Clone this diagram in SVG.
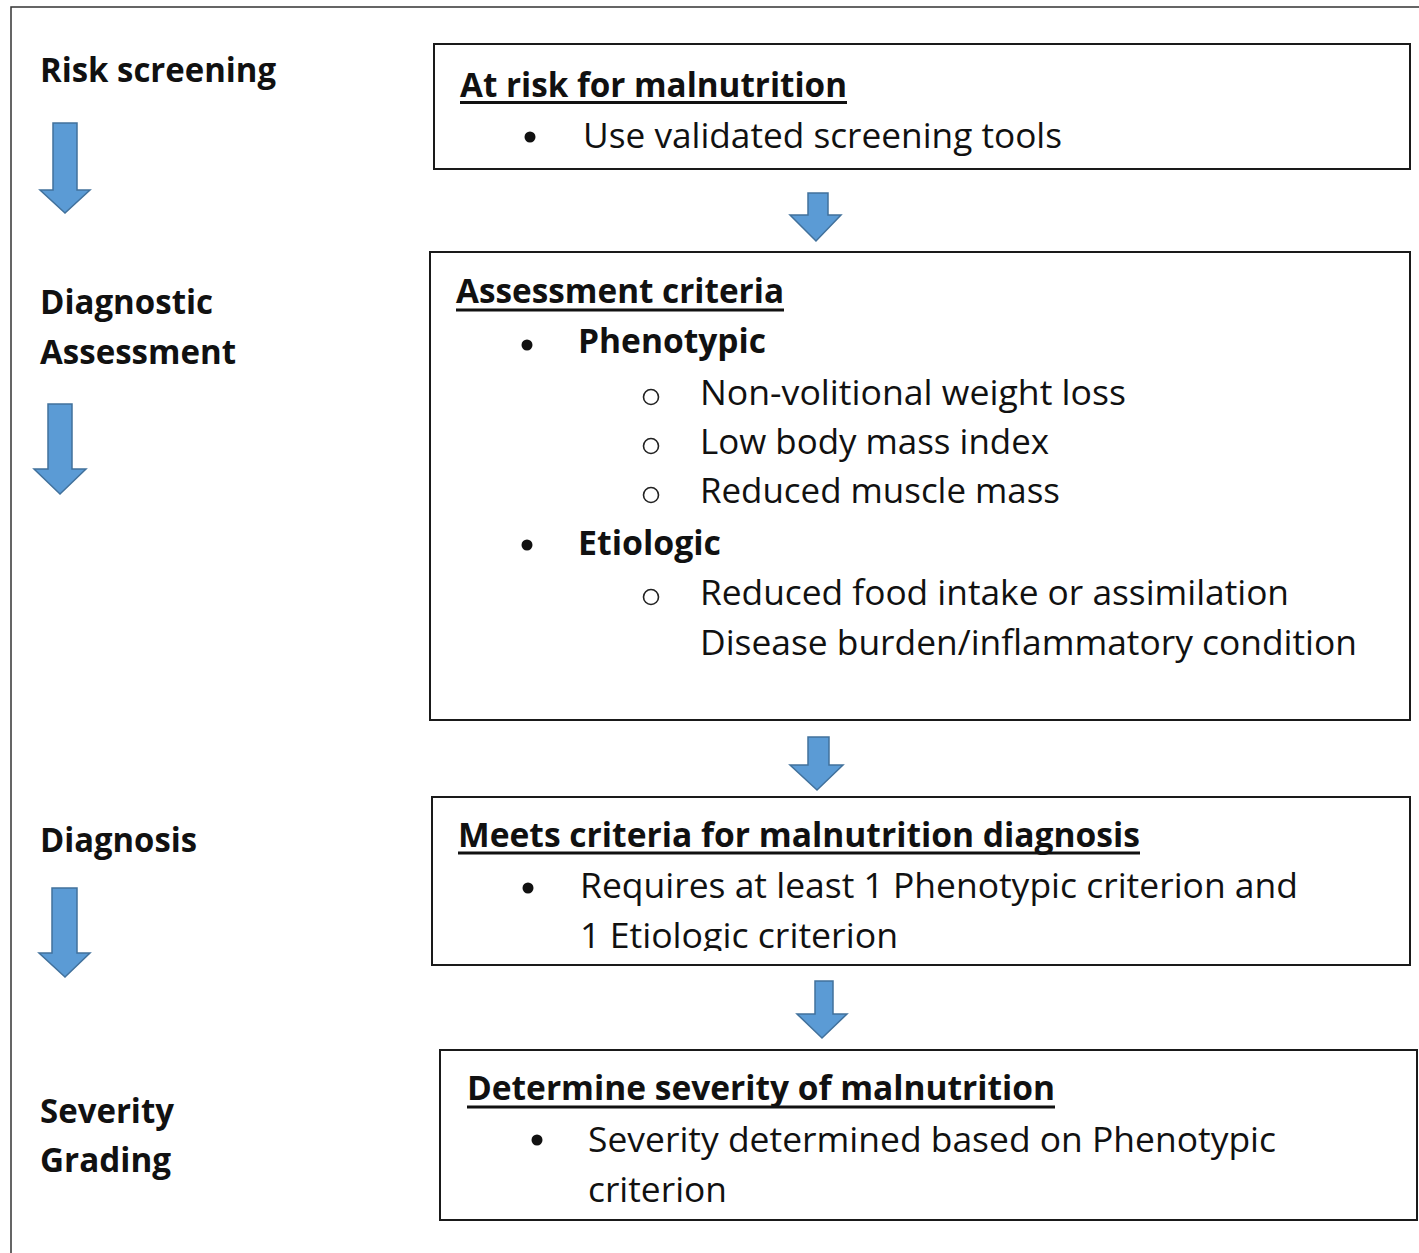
<svg xmlns="http://www.w3.org/2000/svg" width="1419" height="1253" viewBox="0 0 1419 1253">
<style>
.t{font-family:"Open Sans","Noto Sans","Liberation Sans",sans-serif;font-size:34px;fill:#111}
.b{font-weight:bold}
.box{fill:#fff;stroke:#1a1a1a;stroke-width:2}
.ul{stroke:#111;stroke-width:3}
.arr{fill:#5b9bd5;stroke:#41719c;stroke-width:1.5;stroke-linejoin:miter}
.dot{fill:#111}
.circ{fill:none;stroke:#222;stroke-width:1.6}
</style>
<defs>
<clipPath id="clip3"><rect x="432" y="797" width="978" height="154"/></clipPath>
</defs>
<rect width="1419" height="1253" fill="#fff"/>
<path d="M11 1253V7H1419" fill="none" stroke="#333" stroke-width="1.5"/>

<g id="stage-labels">
<text class="t b" x="40" y="82" textLength="236" lengthAdjust="spacingAndGlyphs">Risk screening</text>
<text class="t b" x="40" y="314" textLength="173" lengthAdjust="spacingAndGlyphs">Diagnostic</text>
<text class="t b" x="40" y="364" textLength="196" lengthAdjust="spacingAndGlyphs">Assessment</text>
<text class="t b" x="40" y="852" textLength="157" lengthAdjust="spacingAndGlyphs">Diagnosis</text>
<text class="t b" x="40" y="1123" textLength="134" lengthAdjust="spacingAndGlyphs">Severity</text>
<text class="t b" x="40" y="1172" textLength="131" lengthAdjust="spacingAndGlyphs">Grading</text>
</g>

<g id="connectors">
<path class="arr" d="M53 123H77V190H90L65 213L40 190H53Z"/>
<path class="arr" d="M48 404H72V469H86L60 494L34 469H48Z"/>
<path class="arr" d="M52 888H77V953H90L65 977L39 953H52Z"/>
<path class="arr" d="M808 193H828V215H841L816 241L790 215H808Z"/>
<path class="arr" d="M808 737H829V765H843L817 790L790 765H808Z"/>
<path class="arr" d="M815 981H833V1014H847L822 1038L797 1014H815Z"/>
</g>

<g id="node-risk">
<rect class="box" x="434" y="44" width="976" height="125"/>
<text class="t b" x="460" y="97" textLength="387" lengthAdjust="spacingAndGlyphs">At risk for malnutrition</text>
<line class="ul" x1="460" y1="102.5" x2="847" y2="102.5"/>
<circle class="dot" cx="530" cy="137" r="5.5"/>
<text class="t" x="583" y="148" textLength="479" lengthAdjust="spacingAndGlyphs">Use validated screening tools</text>
</g>

<g id="node-assessment">
<rect class="box" x="430" y="252" width="980" height="468"/>
<text class="t b" x="456" y="303" textLength="328" lengthAdjust="spacingAndGlyphs">Assessment criteria</text>
<line class="ul" x1="456" y1="310" x2="784" y2="310"/>
<circle class="dot" cx="527" cy="345" r="5.5"/>
<text class="t b" x="578" y="353" textLength="188" lengthAdjust="spacingAndGlyphs">Phenotypic</text>
<circle class="circ" cx="651" cy="397" r="7.5"/>
<text class="t" x="700" y="405" textLength="426" lengthAdjust="spacingAndGlyphs">Non-volitional weight loss</text>
<circle class="circ" cx="651" cy="446" r="7.5"/>
<text class="t" x="700" y="454" textLength="349" lengthAdjust="spacingAndGlyphs">Low body mass index</text>
<circle class="circ" cx="651" cy="495" r="7.5"/>
<text class="t" x="700" y="503" textLength="360" lengthAdjust="spacingAndGlyphs">Reduced muscle mass</text>
<circle class="dot" cx="527" cy="545" r="5.5"/>
<text class="t b" x="578" y="555" textLength="143" lengthAdjust="spacingAndGlyphs">Etiologic</text>
<circle class="circ" cx="651" cy="597" r="7.5"/>
<text class="t" x="700" y="605" textLength="589" lengthAdjust="spacingAndGlyphs">Reduced food intake or assimilation</text>
<text class="t" x="700" y="655" textLength="657" lengthAdjust="spacingAndGlyphs">Disease burden/inflammatory condition</text>
</g>

<g id="node-diagnosis">
<rect class="box" x="432" y="797" width="978" height="168"/>
<text class="t b" x="458" y="847" textLength="682" lengthAdjust="spacingAndGlyphs">Meets criteria for malnutrition diagnosis</text>
<line class="ul" x1="458" y1="853" x2="1140" y2="853"/>
<circle class="dot" cx="528" cy="888" r="5.5"/>
<text class="t" x="580" y="898" textLength="718" lengthAdjust="spacingAndGlyphs">Requires at least 1 Phenotypic criterion and</text>
<text class="t" x="580" y="948" textLength="318" lengthAdjust="spacingAndGlyphs" clip-path="url(#clip3)">1 Etiologic criterion</text>
</g>

<g id="node-severity">
<rect class="box" x="440" y="1050" width="977" height="170"/>
<text class="t b" x="467" y="1100" textLength="588" lengthAdjust="spacingAndGlyphs">Determine severity of malnutrition</text>
<line class="ul" x1="467" y1="1107" x2="1055" y2="1107"/>
<circle class="dot" cx="537" cy="1140" r="5.5"/>
<text class="t" x="588" y="1152" textLength="688" lengthAdjust="spacingAndGlyphs">Severity determined based on Phenotypic</text>
<text class="t" x="588" y="1202" textLength="139" lengthAdjust="spacingAndGlyphs">criterion</text>
</g>
</svg>
